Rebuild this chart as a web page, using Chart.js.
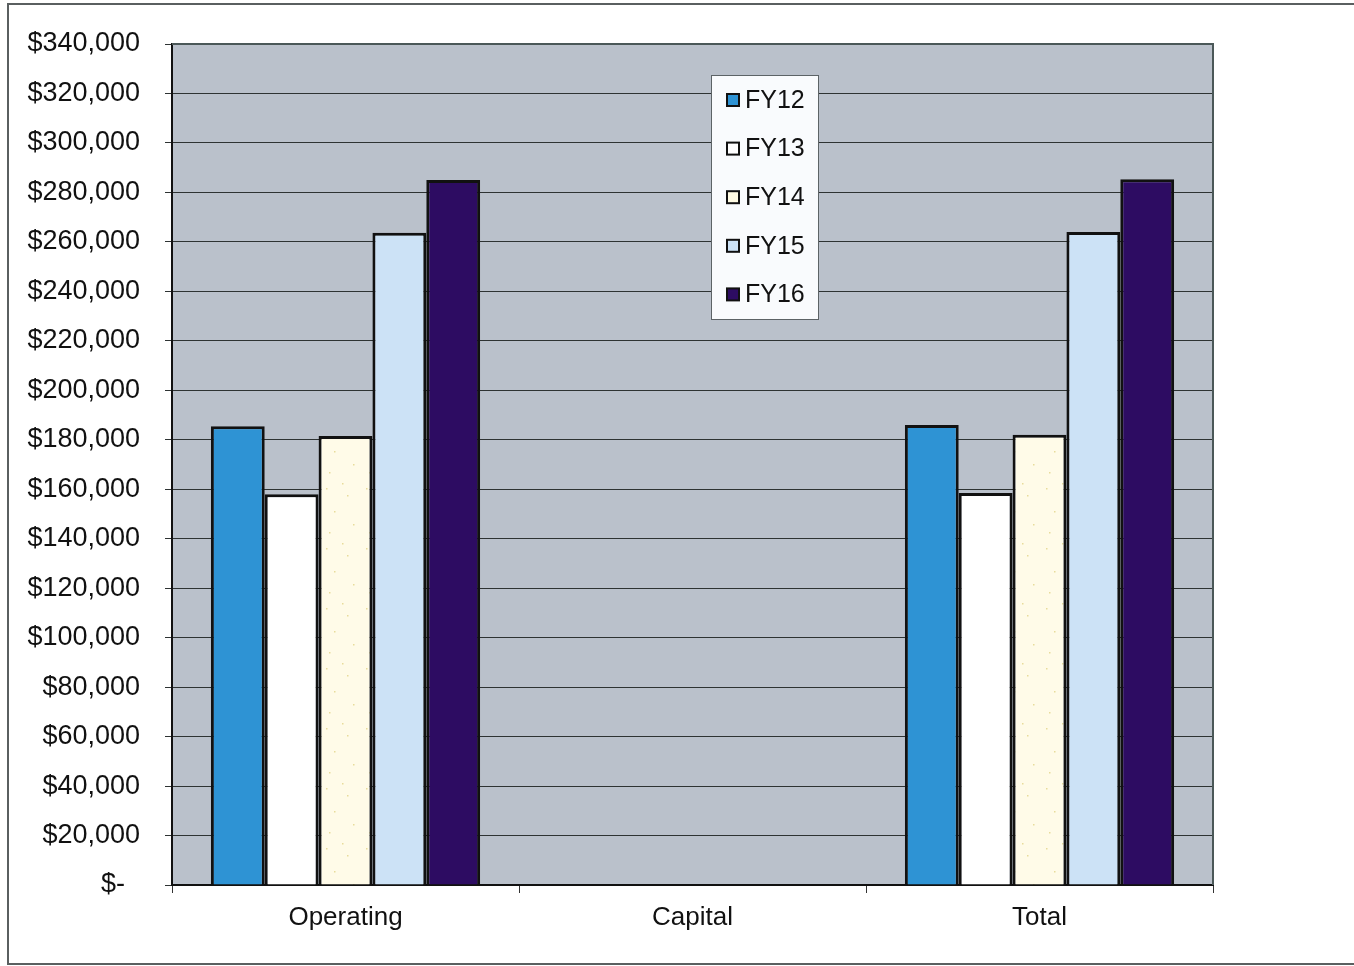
<!DOCTYPE html>
<html>
<head>
<meta charset="utf-8">
<title>Operating / Capital FY12-FY16</title>
<script src="https://cdn.jsdelivr.net/npm/chart.js@4.4.1/dist/chart.umd.min.js"></script>
<style>
  html, body { margin: 0; padding: 0; background: #fff; }
  #wrap { width: 1354px; height: 966px; position: relative; }
</style>
</head>
<body>
<div id="wrap"><canvas id="grafica" width="1354" height="966"></canvas></div>
<script>
// categorias y valores por año fiscal
const categorias = ["Operating", "Capital", "Total"];
const anios = ["FY12", "FY13", "FY14", "FY15", "FY16"];
const fy12 = [185500, 0, 186000];
const fy13 = [158000, 0, 158500];
const fy14 = [181500, 0, 182000];
const fy15 = [263700, 0, 264000];
const fy16 = [285000, 0, 285300];
const ticksY = [0, 20000, 40000, 60000, 80000, 100000, 120000, 140000, 160000,
  180000, 200000, 220000, 240000, 260000, 280000, 300000, 320000, 340000];

// patrón con puntitos para FY14
function patronCrema() {
  const c = document.createElement("canvas");
  c.width = 40; c.height = 60;
  const g = c.getContext("2d");
  g.fillStyle = "#fffbe8";
  g.fillRect(0, 0, 40, 60);
  g.fillStyle = "#e8dc9a";
  [[6, 8], [27, 15], [14, 31], [33, 44], [9, 52], [22, 3]].forEach(p => g.fillRect(p[0], p[1], 1.5, 1.5));
  return g.createPattern(c, "repeat");
}

const colores = ["#2e93d4", "#ffffff", patronCrema(), "#cce2f6", "#2d0c62"];
const series = [fy12, fy13, fy14, fy15, fy16];
const muestras = ["#2e93d4", "#ffffff", "#fffbe3", "#cce2f6", "#2d0c62"];

const fuente = "'Liberation Sans', Arial, sans-serif";

// fondo blanco, marco de la hoja y fondo gris del área de trazado
const fondo = {
  id: "fondo",
  beforeDraw(chart) {
    const ctx = chart.ctx;
    const a = chart.chartArea;
    ctx.save();
    ctx.fillStyle = "#ffffff";
    ctx.fillRect(0, 0, chart.width, chart.height);
    ctx.strokeStyle = "#5a5f60";
    ctx.lineWidth = 2;
    ctx.beginPath();
    ctx.moveTo(1354, 4);
    ctx.lineTo(8, 4);
    ctx.lineTo(8, 964);
    ctx.lineTo(1354, 964);
    ctx.stroke();
    ctx.fillStyle = "#bac1cb";
    ctx.fillRect(a.left, a.top, a.right - a.left, a.bottom - a.top);
    ctx.restore();
  },
  afterDatasetsDraw(chart) {
    const ctx = chart.ctx;
    const a = chart.chartArea;
    ctx.save();
    ctx.strokeStyle = "#4b5858";
    ctx.lineWidth = 2;
    ctx.beginPath();
    ctx.moveTo(a.left, a.top);
    ctx.lineTo(a.right, a.top);
    ctx.lineTo(a.right, a.bottom);
    ctx.stroke();
    ctx.restore();
  }
};

// leyenda en recuadro dentro del área
const leyenda = {
  id: "leyenda",
  afterDraw(chart) {
    const ctx = chart.ctx;
    const x0 = 711, y0 = 75, w = 107, h = 244;
    ctx.save();
    ctx.fillStyle = "#f9fbfd";
    ctx.fillRect(x0, y0, w, h);
    ctx.strokeStyle = "#5c6366";
    ctx.lineWidth = 1;
    ctx.strokeRect(x0 + 0.5, y0 + 0.5, w, h);
    ctx.font = "25px " + fuente;
    ctx.textBaseline = "middle";
    chart.data.datasets.forEach((ds, i) => {
      const y = 100 + i * 48.6;
      ctx.fillStyle = muestras[i];
      ctx.fillRect(727, y - 6, 12, 12);
      ctx.strokeStyle = "#111";
      ctx.lineWidth = 2;
      ctx.strokeRect(727, y - 6, 12, 12);
      ctx.fillStyle = "#111";
      ctx.fillText(ds.label, 745, y + 1);
    });
    ctx.restore();
  }
};

const ctx = document.getElementById("grafica").getContext("2d");
new Chart(ctx, {
  type: "bar",
  data: {
    labels: categorias,
    datasets: anios.map((a, i) => ({
      label: a,
      data: series[i],
      backgroundColor: colores[i],
      borderColor: "#111111",
      borderWidth: 3,
      borderSkipped: "bottom",
      barPercentage: 1,
      categoryPercentage: 0.776
    }))
  },
  options: {
    responsive: false,
    animation: false,
    devicePixelRatio: 1,
    layout: { padding: { left: 0, right: 141, top: 44, bottom: 20 } },
    plugins: {
      legend: { display: false },
      tooltip: { enabled: false }
    },
    scales: {
      x: {
        afterFit(scale) { scale.height = 61; },
        grid: {
          offset: true,
          drawOnChartArea: false,
          drawTicks: true,
          tickLength: 8,
          color: "#333"
        },
        border: { display: true, color: "#111", width: 2 },
        ticks: { color: "#111", font: { family: fuente, size: 26 }, padding: 9 }
      },
      y: {
        min: 0,
        max: 340000,
        afterFit(scale) { scale.width = 172; },
        afterBuildTicks(scale) { scale.ticks = ticksY.map(v => ({ value: v })); },
        grid: { color: "#2e3333", lineWidth: 1, tickLength: 7, drawTicks: true },
        border: { display: true, color: "#111", width: 2 },
        ticks: {
          color: "#111",
          padding: 25,
          font: { family: fuente, size: 27 },
          callback: v => v === 0 ? "$-  " : "$" + v.toLocaleString("en-US")
        }
      }
    }
  },
  plugins: [fondo, leyenda]
});
</script>
</body>
</html>
